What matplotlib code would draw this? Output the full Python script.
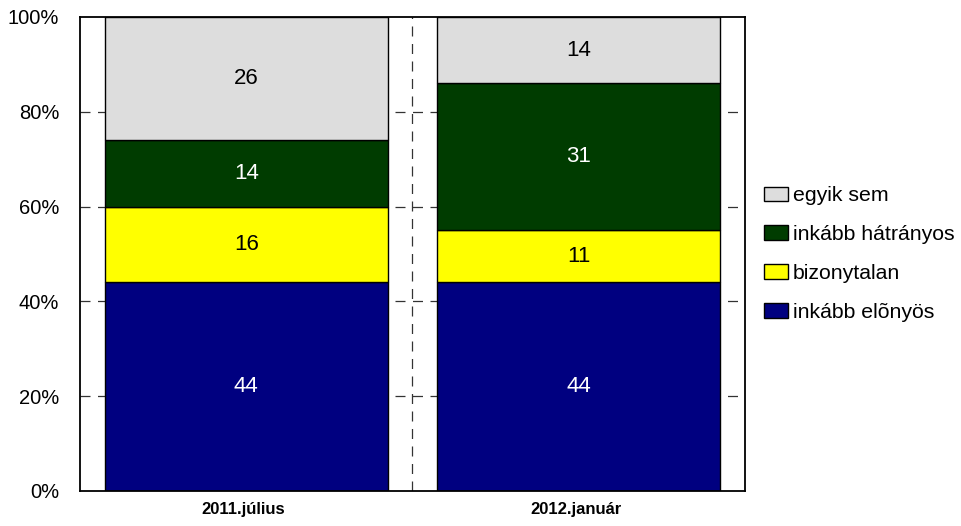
import matplotlib
matplotlib.use("Agg")
import matplotlib.pyplot as plt
from matplotlib.patches import Patch
from matplotlib.transforms import ScaledTranslation
import numpy as np

categories = ["2011.július", "2012.január"]
series_names = ["inkább elõnyös", "bizonytalan", "inkább hátrányos", "egyik sem"]
elonyos = [44, 44]
bizonytalan = [16, 11]
hatranyos = [14, 31]
egyik_sem = [26, 14]
yticks = [0, 20, 40, 60, 80, 100]
ytick_labels = ["0%", "20%", "40%", "60%", "80%", "100%"]

series = [elonyos, bizonytalan, hatranyos, egyik_sem]
colors = ["#000080", "#FFFF00", "#003C00", "#DDDDDD"]
text_colors = ["white", "black", "white", "black"]

plt.rcParams['font.family'] = ['Liberation Sans', 'DejaVu Sans']

fig = plt.figure(figsize=(9.62, 5.26), dpi=100)
ax = fig.add_axes([80/962, 35/526, 665/962, 474/526])

x = np.arange(len(categories))
bottom = np.zeros(len(categories))
for vals, c, tc in zip(series, colors, text_colors):
    v = np.array(vals, dtype=float)
    ax.bar(x, v, 0.85, bottom=bottom, color=c, edgecolor="black", linewidth=1.0, zorder=3)
    for xi, b, vi in zip(x, bottom, v):
        ax.text(xi, b + vi / 2, f"{int(vi)}", ha="center", va="center",
                color=tc, fontsize=16, zorder=4)
    bottom += v

ax.set_xlim(-0.5, 1.5)
ax.set_ylim(0, 100)
ax.set_yticks(yticks)
ax.set_yticklabels(ytick_labels, fontsize=14.5)
ax.set_xticks(x)
ax.set_xticklabels(categories, fontsize=12, fontweight="bold")
ax.tick_params(axis="both", length=0)
ax.tick_params(axis="x", pad=8)
ax.tick_params(axis="y", pad=15)
shift = ScaledTranslation(-3/100, 0, fig.dpi_scale_trans)
for lbl in ax.get_xticklabels():
    lbl.set_transform(lbl.get_transform() + shift)

for yv in yticks[1:-1]:
    ax.axhline(yv, color="#333333", linestyle=(0, (8, 6)), linewidth=0.9, zorder=1)
ax.axvline(0.5, color="#333333", linestyle=(0, (8, 6)), linewidth=0.9, zorder=1)

for s in ax.spines.values():
    s.set_color("black")
    s.set_linewidth(1.3)
    s.set_zorder(5)

handles = [Patch(facecolor=c, edgecolor="black", linewidth=1.0) for c in colors]
order = [3, 2, 1, 0]
leg = fig.legend([handles[i] for i in order], [series_names[i] for i in order],
                 loc="center left", bbox_to_anchor=(764/962, 0.517), frameon=False,
                 fontsize=15.3, handlelength=1.13, handleheight=0.7, handletextpad=0.24,
                 labelspacing=0.93, borderaxespad=0, borderpad=0)

fig.savefig("out.png", dpi=100)
